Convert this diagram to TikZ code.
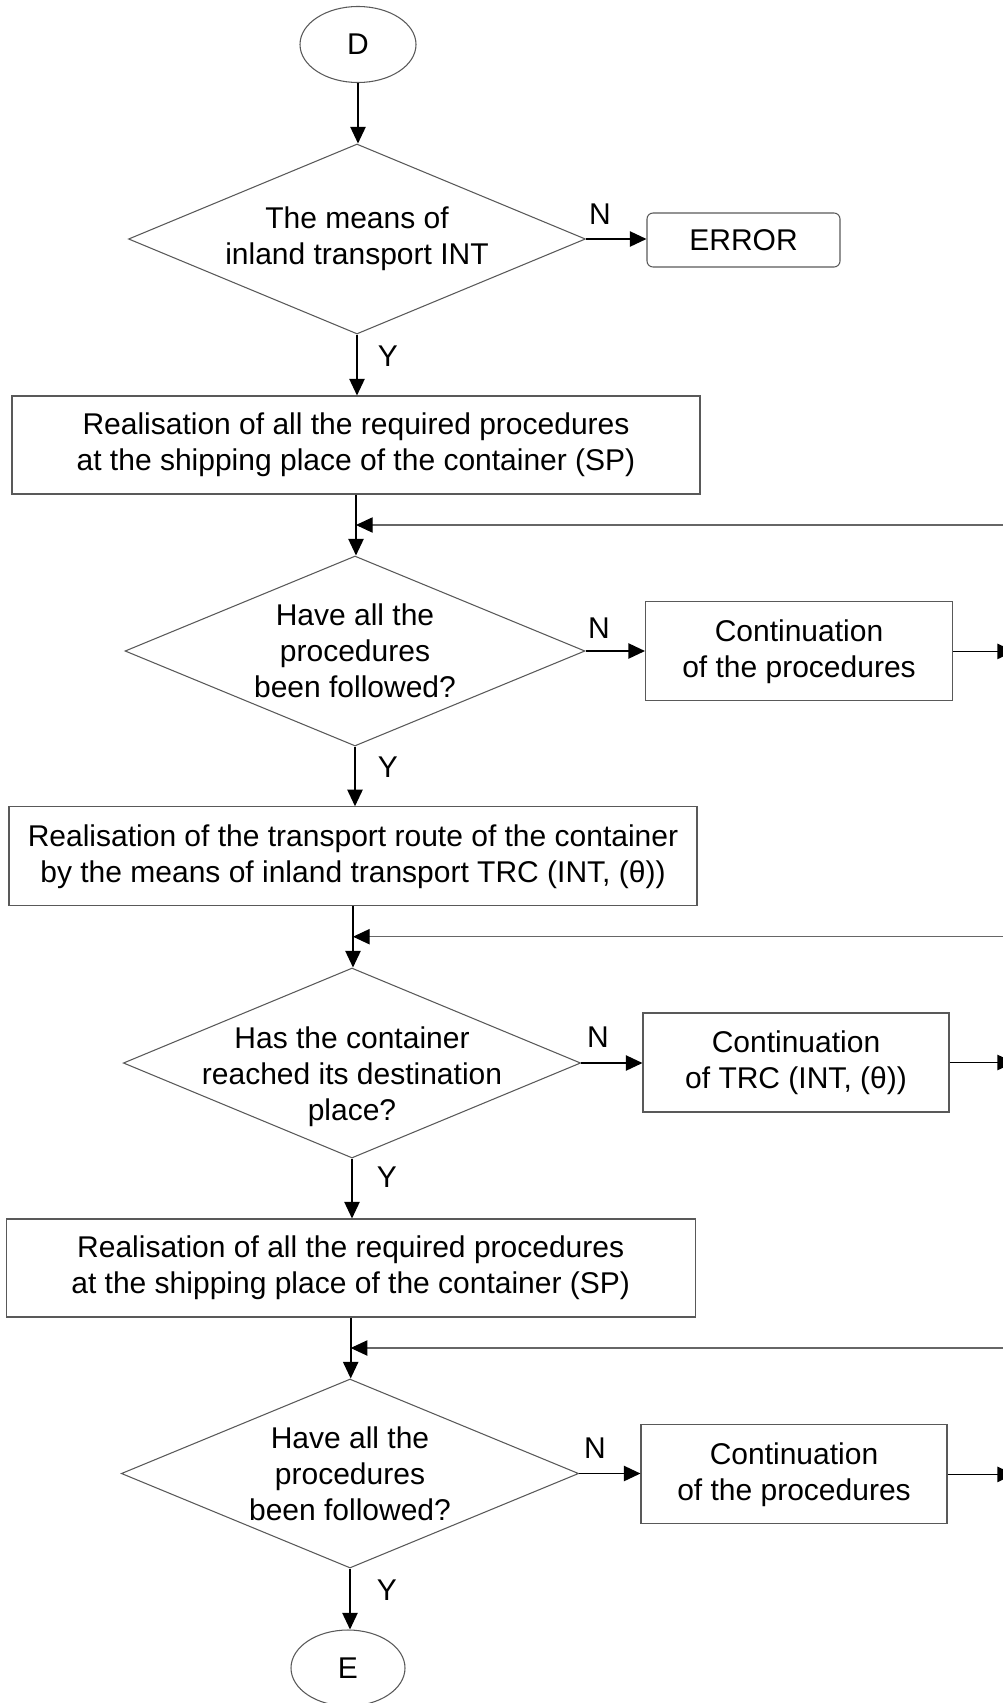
\documentclass[tikz,border=0pt]{standalone}
\usepackage{fontspec}
\setmainfont{Liberation Sans}
\usetikzlibrary{shapes.geometric,arrows.meta}
\begin{document}
\begin{tikzpicture}[x=0.75pt,y=-0.75pt,
  every node/.style={font=\fontsize{22.5}{27}\selectfont},
  boxnode/.style={draw=black!65,line width=0.8pt,rectangle,align=center,inner sep=0pt},
  dianode/.style={draw=black!65,line width=0.8pt,diamond,align=center,inner sep=-40pt},
  termnode/.style={draw=black!65,line width=0.8pt,ellipse,inner sep=0pt,minimum width=87pt,minimum height=57pt},
  arr/.style={line width=1.2pt,-{Triangle[length=12.5pt,width=11.5pt]}},
  fb/.style={draw=black!60,line width=0.8pt,-{Triangle[length=12.5pt,width=11.5pt,color=black]}},
  lab/.style={inner sep=0pt}
]
\useasboundingbox (0,0) rectangle (1003,1703);

% nodes
\node[termnode] (D) at (358,44.5) {D};
\node[dianode, minimum width=342.75pt, minimum height=142.5pt] (d1) at (357,239) {The means of\\inland transport INT};
\node[boxnode, rounded corners=4.5pt, minimum width=144.75pt, minimum height=40.5pt] (err) at (743.5,240) {ERROR};
\node[boxnode, minimum width=516pt, minimum height=73.5pt] (b1) at (356,445) {Realisation of all the required procedures\\at the shipping place of the container (SP)};
\node[dianode, minimum width=345pt, minimum height=142.5pt] (d2) at (355,651) {Have all the\\procedures\\been followed?};
\node[boxnode, minimum width=230.25pt, minimum height=74.25pt] (c1) at (799,651.4) {Continuation\\of the procedures};
\node[boxnode, minimum width=516pt, minimum height=74.25pt] (b2) at (353,856.3) {Realisation of the transport route of the container\\by the means of inland transport TRC (INT, (θ))};
\node[dianode, minimum width=343pt, minimum height=142.5pt] (d3) at (352,1063) {\raisebox{-16pt}[0pt][0pt]{\begin{tabular}{@{}c@{}}Has the container\\reached its destination\\place?\end{tabular}}};
\node[boxnode, minimum width=229.5pt, minimum height=74.25pt] (c2) at (796,1062.5) {Continuation\\of TRC (INT, (θ))};
\node[boxnode, minimum width=516.75pt, minimum height=73.5pt] (b3) at (350.7,1268) {Realisation of all the required procedures\\at the shipping place of the container (SP)};
\node[dianode, minimum width=343pt, minimum height=141.75pt] (d4) at (350,1473.5) {Have all the\\procedures\\been followed?};
\node[boxnode, minimum width=229.5pt, minimum height=74.25pt] (c3) at (794,1474.4) {Continuation\\of the procedures};
\node[termnode, minimum width=85.5pt] (E) at (348,1668) {E};

% labels
\node[lab] (n1) at (600,214) {N};
\node[lab] (y1) at (388,356) {Y};
\node[lab] (n2) at (599,628) {N};
\node[lab] (y2) at (388,767) {Y};
\node[lab] (n3) at (598,1037) {N};
\node[lab] (y3) at (387,1177) {Y};
\node[lab] (n4) at (595,1448) {N};
\node[lab] (y4) at (387,1590) {Y};

% free ends at the right edge
\coordinate (redge) at (1014,0);
\coordinate (f1) at (1010,525);
\coordinate (f2) at (1010,936.7);
\coordinate (f3) at (1010,1348);

% connectors
\draw[arr] (D.south) -- (D.south |- d1.north);
\draw[arr] (d1.east) -- (d1.east -| err.west);
\draw[arr] (d1.south) -- (d1.south |- b1.north);
\draw[arr] (b1.south) -- (b1.south |- d2.north);
\draw[fb] (f1) -- (f1 -| b1.south);
\draw[arr] (d2.east) -- (d2.east -| c1.west);
\draw[arr] (c1.east) -- (c1.east -| redge);
\draw[arr] (d2.south) -- (d2.south |- b2.north);
\draw[arr] (b2.south) -- (b2.south |- d3.north);
\draw[fb] (f2) -- (f2 -| b2.south);
\draw[arr] (d3.east) -- (d3.east -| c2.west);
\draw[arr] (c2.east) -- (c2.east -| redge);
\draw[arr] (d3.south) -- (d3.south |- b3.north);
\draw[arr] (b3.south) -- (b3.south |- d4.north);
\draw[fb] (f3) -- (f3 -| b3.south);
\draw[arr] (d4.east) -- (d4.east -| c3.west);
\draw[arr] (c3.east) -- (c3.east -| redge);
\draw[arr] (d4.south) -- (d4.south |- E.north);
\end{tikzpicture}
\end{document}
